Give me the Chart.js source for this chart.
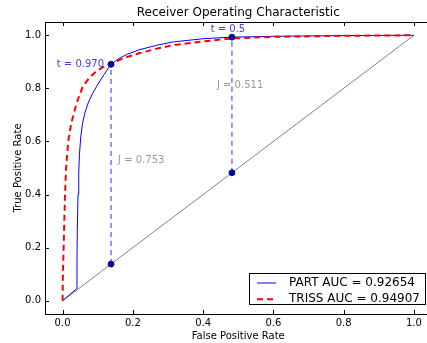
<!DOCTYPE html>
<html><head><meta charset="utf-8">
<script src="https://cdn.jsdelivr.net/npm/chart.js@4.4.0/dist/chart.umd.min.js"></script>
<style>html,body{margin:0;padding:0;overflow:hidden;background:#fff}#wrap{width:440px;height:343px}</style>
</head><body><div id="wrap"><canvas id="c" width="440" height="343"></canvas></div>
<script>
// ---- data ----
const partFpr = [0, 0.040, 0.041, 0.042, 0.044, 0.046, 0.048, 0.052, 0.057, 0.064, 0.073, 0.085, 0.098, 0.118, 0.138, 0.160, 0.185, 0.220, 0.270, 0.315, 0.400, 0.482, 0.600, 0.800, 1.0];
const partTpr = [0, 0.045, 0.150, 0.270, 0.400, 0.480, 0.550, 0.620, 0.670, 0.710, 0.745, 0.780, 0.810, 0.852, 0.891, 0.912, 0.929, 0.946, 0.963, 0.975, 0.987, 0.993, 0.996, 0.999, 1.0];
const trissFpr = [0, 0.001, 0.003, 0.005, 0.007, 0.010, 0.016, 0.025, 0.040, 0.057, 0.075, 0.092, 0.115, 0.140, 0.180, 0.220, 0.270, 0.315, 0.400, 0.482, 0.600, 0.800, 1.0];
const trissTpr = [0, 0.100, 0.200, 0.300, 0.400, 0.500, 0.600, 0.670, 0.745, 0.805, 0.838, 0.860, 0.880, 0.895, 0.917, 0.933, 0.950, 0.963, 0.977, 0.988, 0.994, 0.998, 1.0];
const chanceX = [0, 1];
const chanceY = [0, 1];
const cutFpr = [0.138, 0.482];
const cutTpr = [0.891, 0.993];
const thresholdLabels = ['t = 0.970', 't = 0.5'];
const youdenLabels = ['J = 0.753', 'J = 0.511'];
const youdenLabelY = [0.53, 0.813];
const seriesNames = ['PART AUC = 0.92654', 'TRISS AUC = 0.94907'];
const xTicks = [0.0, 0.2, 0.4, 0.6, 0.8, 1.0];
const yTicks = [0.0, 0.2, 0.4, 0.6, 0.8, 1.0];
const titleText = 'Receiver Operating Characteristic';
const xTitle = 'False Positive Rate';
const yTitle = 'True Positive Rate';

const FONT = '"DejaVu Sans", "Liberation Sans", sans-serif';
const pts = (xs, ys) => xs.map((v, i) => ({x: v, y: ys[i]}));

const datasets = [
  {label: seriesNames[0], data: pts(partFpr, partTpr), showLine: true, borderColor: '#0000ff', borderWidth: 1, pointRadius: 0, order: 2},
  {label: seriesNames[1], data: pts(trissFpr, trissTpr), showLine: true, borderColor: '#ff0000', borderWidth: 2, borderDash: [6, 4], pointRadius: 0, order: 1},
  {label: 'chance', data: pts(chanceX, chanceY), showLine: true, borderColor: '#808080', borderWidth: 1, pointRadius: 0, order: 5}
];
cutFpr.forEach((f, i) => {
  datasets.push({label: 'cut' + i, data: [{x: f, y: f}, {x: f, y: cutTpr[i]}], showLine: true,
    borderColor: 'rgba(40,40,255,0.65)', borderWidth: 1.5, borderDash: [5, 4], pointRadius: 0, order: 4});
});
datasets.push({label: 'markers', data: pts(cutFpr, cutTpr).concat(pts(cutFpr, cutFpr)), showLine: false,
  pointRadius: 3, pointBackgroundColor: '#0000d0', pointBorderColor: '#000', pointBorderWidth: 0.8, order: 0});

const deco = {
  id: 'deco',
  afterDatasetsDraw(chart) {
    const {ctx, scales: {x, y}} = chart;
    ctx.save();
    ctx.font = '10px ' + FONT;
    ctx.fillStyle = '#3c3cff';
    ctx.textBaseline = 'middle';
    ctx.textAlign = 'right';
    ctx.fillText(thresholdLabels[0], x.getPixelForValue(cutFpr[0]) - 7, y.getPixelForValue(cutTpr[0]));
    ctx.textAlign = 'center';
    ctx.fillText(thresholdLabels[1], x.getPixelForValue(cutFpr[1]) - 4, y.getPixelForValue(cutTpr[1]) - 8);
    ctx.fillStyle = '#9a9a9a';
    ctx.textAlign = 'left';
    ctx.fillText(youdenLabels[0], x.getPixelForValue(cutFpr[0]) + 7, y.getPixelForValue(youdenLabelY[0]));
    ctx.fillText(youdenLabels[1], x.getPixelForValue(cutFpr[1]) - 15, y.getPixelForValue(youdenLabelY[1]));
    ctx.restore();
  },
  afterDraw(chart) {
    const {ctx, chartArea: a, scales: {x, y}} = chart;
    ctx.save();
    ctx.strokeStyle = '#000';
    ctx.lineWidth = 1;
    ctx.beginPath();
    ctx.moveTo(a.left, Math.round(a.top) + 0.5); ctx.lineTo(a.right, Math.round(a.top) + 0.5);
    ctx.moveTo(Math.round(a.right) - 0.5, a.top); ctx.lineTo(Math.round(a.right) - 0.5, a.bottom);
    xTicks.forEach(v => {
      const px = Math.round(x.getPixelForValue(v)) + 0.5;
      ctx.moveTo(px, a.bottom); ctx.lineTo(px, a.bottom - 4);
      ctx.moveTo(px, a.top); ctx.lineTo(px, a.top + 4);
    });
    yTicks.forEach(v => {
      const py = Math.round(y.getPixelForValue(v)) + 0.5;
      ctx.moveTo(a.left, py); ctx.lineTo(a.left + 4, py);
      ctx.moveTo(a.right, py); ctx.lineTo(a.right - 4, py);
    });
    ctx.stroke();
    const lx = 249.5, ly = 273.5, lw = 176, lh = 31;
    ctx.fillStyle = '#fff';
    ctx.fillRect(lx, ly, lw, lh);
    ctx.strokeRect(lx, ly, lw, lh);
    ctx.font = '12px ' + FONT;
    ctx.textBaseline = 'middle';
    ctx.textAlign = 'left';
    [0, 1].forEach(i => {
      const ds = chart.data.datasets[i];
      const ry = 283 + i * 16.3;
      ctx.beginPath();
      ctx.strokeStyle = ds.borderColor;
      ctx.lineWidth = ds.borderWidth;
      ctx.setLineDash(ds.borderDash || []);
      ctx.moveTo(257, ry); ctx.lineTo(276, ry);
      ctx.stroke();
      ctx.setLineDash([]);
      ctx.fillStyle = '#000';
      ctx.fillText(ds.label, 289, ry);
    });
    ctx.restore();
  }
};

new Chart(document.getElementById('c'), {
  type: 'scatter',
  data: {datasets},
  options: {
    responsive: false,
    animation: false,
    layout: {padding: {left: 0, top: 0, right: 8.5, bottom: 0}},
    plugins: {
      legend: {display: false},
      tooltip: {enabled: false},
      title: {display: true, text: titleText, fullSize: false, color: '#000',
        font: {family: FONT, size: 12, weight: 'normal', lineHeight: 1.2}, padding: {top: 6, bottom: 1.6}}
    },
    scales: {
      x: {
        type: 'linear', min: -0.05, max: 1.05,
        afterFit: s => { s.height = 29; },
        afterBuildTicks: s => { s.ticks = xTicks.map(v => ({value: v})); },
        grid: {display: false, drawTicks: false},
        border: {display: true, color: '#000', width: 1},
        ticks: {color: '#000', padding: 3, font: {family: FONT, size: 10}, callback: v => Number(v).toFixed(1), maxRotation: 0, autoSkip: false},
        title: {display: true, text: xTitle, color: '#000', font: {family: FONT, size: 10, lineHeight: 1.2}, padding: {top: 0, bottom: 1}}
      },
      y: {
        type: 'linear', min: -0.05, max: 1.05,
        afterFit: s => { s.width = 45; },
        afterBuildTicks: s => { s.ticks = yTicks.map(v => ({value: v})); },
        grid: {display: false, drawTicks: false},
        border: {display: true, color: '#000', width: 1},
        ticks: {color: '#000', padding: 4, font: {family: FONT, size: 10}, callback: v => Number(v).toFixed(1), autoSkip: false},
        title: {display: true, text: yTitle, color: '#000', font: {family: FONT, size: 10, lineHeight: 1.2}, padding: {top: 12, bottom: 0}}
      }
    }
  },
  plugins: [deco]
});
</script>
</body></html>
